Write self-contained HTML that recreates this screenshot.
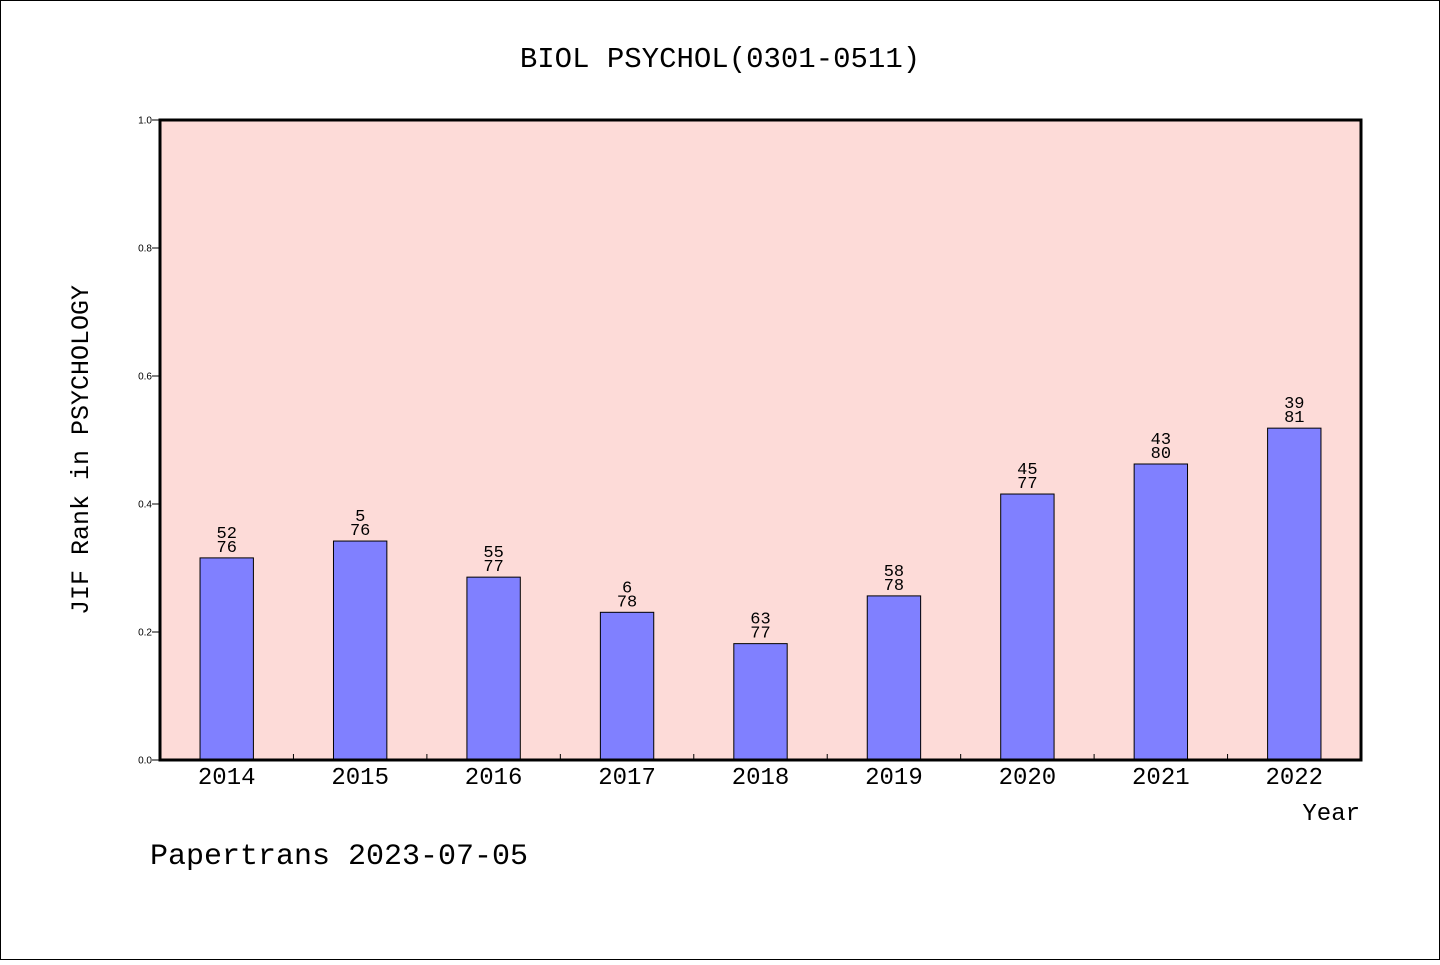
<!DOCTYPE html>
<html><head><meta charset="utf-8">
<style>
html,body{margin:0;padding:0;background:#fff;}
#wrap{position:relative;width:1440px;height:960px;}
svg text{font-family:"Liberation Mono",monospace;fill:#000;}
svg text.sm{font-family:"Liberation Sans",sans-serif;}
</style></head>
<body>
<div id="wrap">
<svg id="chart" width="1440" height="960" xmlns="http://www.w3.org/2000/svg">
<rect x="0.5" y="0.5" width="1439" height="959" fill="#fff" stroke="#000" stroke-width="1"/>
<text x="720" y="67" font-size="29" text-anchor="middle">BIOL PSYCHOL(0301-0511)</text>
<rect x="160" y="120" width="1201" height="640" fill="#fddbd8"/>
<g id="bars"></g>
<g id="axes"></g>
<rect x="160" y="120" width="1201" height="640" fill="none" stroke="#000" stroke-width="3"/>
<text transform="translate(88,450) rotate(-90)" font-size="25" text-anchor="middle">JIF Rank in PSYCHOLOGY</text>
<text x="1360" y="820" font-size="24" text-anchor="end">Year</text>
<text x="150" y="864" font-size="30">Papertrans 2023-07-05</text>
</svg>
</div>
<script>
const years = ["2014","2015","2016","2017","2018","2019","2020","2021","2022"];
const ranks = [52,50,55,60,63,58,45,43,39];
const totals = [76,76,77,78,77,78,77,80,81];
const rankLabels = ["52","5","55","6","63","58","45","43","39"];
const yTicks = [0,0.2,0.4,0.6,0.8,1.0];
const yTickLabels = ["0.0","0.2","0.4","0.6","0.8","1.0"];

const NS="http://www.w3.org/2000/svg";
const X0=160,X1=1361,Y0=760,Y1=120;
const slot=(X1-X0)/years.length;
const xC=i=>X0+slot*(i+0.5);
const yS=v=>Y0-(Y0-Y1)*v;
function mk(tag,attrs,parent){const e=document.createElementNS(NS,tag);for(const k in attrs)e.setAttribute(k,attrs[k]);parent.appendChild(e);return e;}
const bars=document.getElementById('bars'),axes=document.getElementById('axes');
years.forEach((yr,i)=>{
  const v=1-ranks[i]/totals[i];
  const w=slot*0.4;
  const r=mk('rect',{x:xC(i)-w/2,y:yS(v),width:w,height:Y0-yS(v),fill:'#8080ff',stroke:'#000','stroke-width':1},bars);
  
  
  const t1=mk('text',{x:xC(i),y:yS(v)-20,'font-size':17,'text-anchor':'middle'},bars);
  t1.textContent=rankLabels[i];
  
  
  const t2=mk('text',{x:xC(i),y:yS(v)-6,'font-size':17,'text-anchor':'middle'},bars);
  t2.textContent=totals[i];
  
  
  const xl=mk('text',{x:xC(i),y:784,'font-size':24,'text-anchor':'middle'},axes);
  xl.textContent=yr;
  
  
  if(i>0){
    const tk=mk('line',{x1:X0+slot*i,x2:X0+slot*i,y1:Y0,y2:Y0-6,stroke:'#000','stroke-width':1},axes);
    
    
  }
});
yTicks.forEach((v,i)=>{
  const tk=mk('line',{x1:X0-8,x2:X0,y1:yS(v),y2:yS(v),stroke:'#000','stroke-width':1},axes);
  
  
  const tl=mk('text',{x:X0-8,y:yS(v)+3.5,'font-size':10,'text-anchor':'end','class':'sm'},axes);
  tl.textContent=yTickLabels[i];
  
  
});
</script>
</body></html>
